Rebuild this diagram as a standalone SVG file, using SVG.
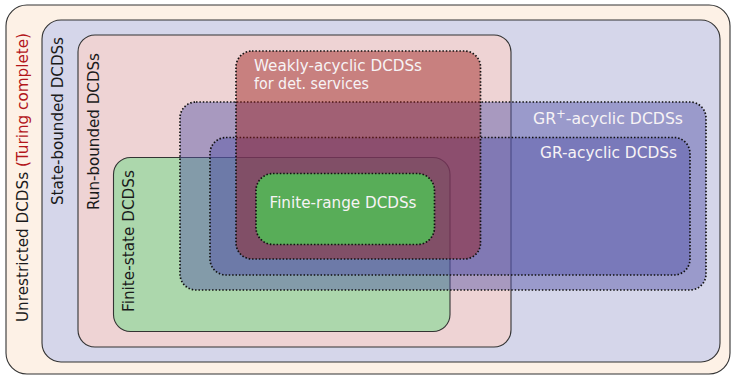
<svg xmlns="http://www.w3.org/2000/svg" width="732" height="376" viewBox="0 0 732 376">
  <style>
    .solid { stroke: #333; stroke-width: 1.1; }
    .dotted { stroke: #111; stroke-width: 1.7; stroke-dasharray: 1.5 1.9; }
    .blue { fill: #5252a6; fill-opacity: 0.45; }
    .red { fill: #9a1a19; fill-opacity: 0.45; }
    text { font-family: "DejaVu Sans", "Liberation Sans", sans-serif; font-size: 15.5px; }
    .side { fill: #1a1a1a; }
    .inner { fill: #f7f3f5; }
    .turing { fill: #b3161b; }
  </style>

  <!-- nested class regions, outermost first -->
  <g id="unrestricted">
    <rect class="solid" x="6" y="5" width="724" height="369" rx="21" fill="#fdf1e6"/>
    <text class="side" transform="translate(28,322) rotate(-90)" textLength="289" lengthAdjust="spacingAndGlyphs">Unrestricted DCDSs <tspan class="turing">(Turing complete)</tspan></text>
  </g>

  <g id="state-bounded">
    <rect class="solid" x="42" y="20" width="678" height="342" rx="19" fill="#d5d6ea"/>
    <text class="side" transform="translate(62.5,205) rotate(-90)" textLength="168" lengthAdjust="spacingAndGlyphs">State-bounded DCDSs</text>
  </g>

  <g id="run-bounded">
    <rect class="solid" x="78" y="35" width="433" height="312" rx="17" fill="#eed3d4"/>
    <text class="side" transform="translate(98.5,210) rotate(-90)" textLength="157" lengthAdjust="spacingAndGlyphs">Run-bounded DCDSs</text>
  </g>

  <g id="finite-state">
    <rect class="solid" x="113.5" y="157.5" width="336.5" height="174" rx="17" fill="#acd7ac"/>
    <text class="side" transform="translate(134,312) rotate(-90)" textLength="142" lengthAdjust="spacingAndGlyphs">Finite-state DCDSs</text>
  </g>

  <!-- translucent acyclicity classes -->
  <g id="gr-plus-acyclic">
    <rect class="blue dotted" x="180" y="102" width="526" height="188" rx="16"/>
    <text class="inner" x="533" y="123.5" textLength="150" lengthAdjust="spacingAndGlyphs">GR<tspan font-size="11.5" dy="-6">+</tspan><tspan dy="6">-acyclic DCDSs</tspan></text>
  </g>

  <g id="gr-acyclic">
    <rect class="blue dotted" x="210" y="137.5" width="480" height="137.5" rx="16"/>
    <text class="inner" x="540" y="157.5" textLength="137" lengthAdjust="spacingAndGlyphs">GR-acyclic DCDSs</text>
  </g>

  <g id="weakly-acyclic">
    <rect class="red dotted" x="236" y="51" width="244.5" height="208" rx="16"/>
    <text class="inner" x="254" y="70.7" textLength="168" lengthAdjust="spacingAndGlyphs">Weakly-acyclic DCDSs</text>
    <text class="inner" x="254" y="89.3" textLength="115" lengthAdjust="spacingAndGlyphs">for det. services</text>
  </g>

  <g id="finite-range">
    <rect class="dotted" x="256" y="173.5" width="178.5" height="71" rx="17" fill="#58ad58"/>
    <text class="inner" x="269.5" y="208.3" textLength="147" lengthAdjust="spacingAndGlyphs">Finite-range DCDSs</text>
  </g>

  <g id="connectors"/>
</svg>
